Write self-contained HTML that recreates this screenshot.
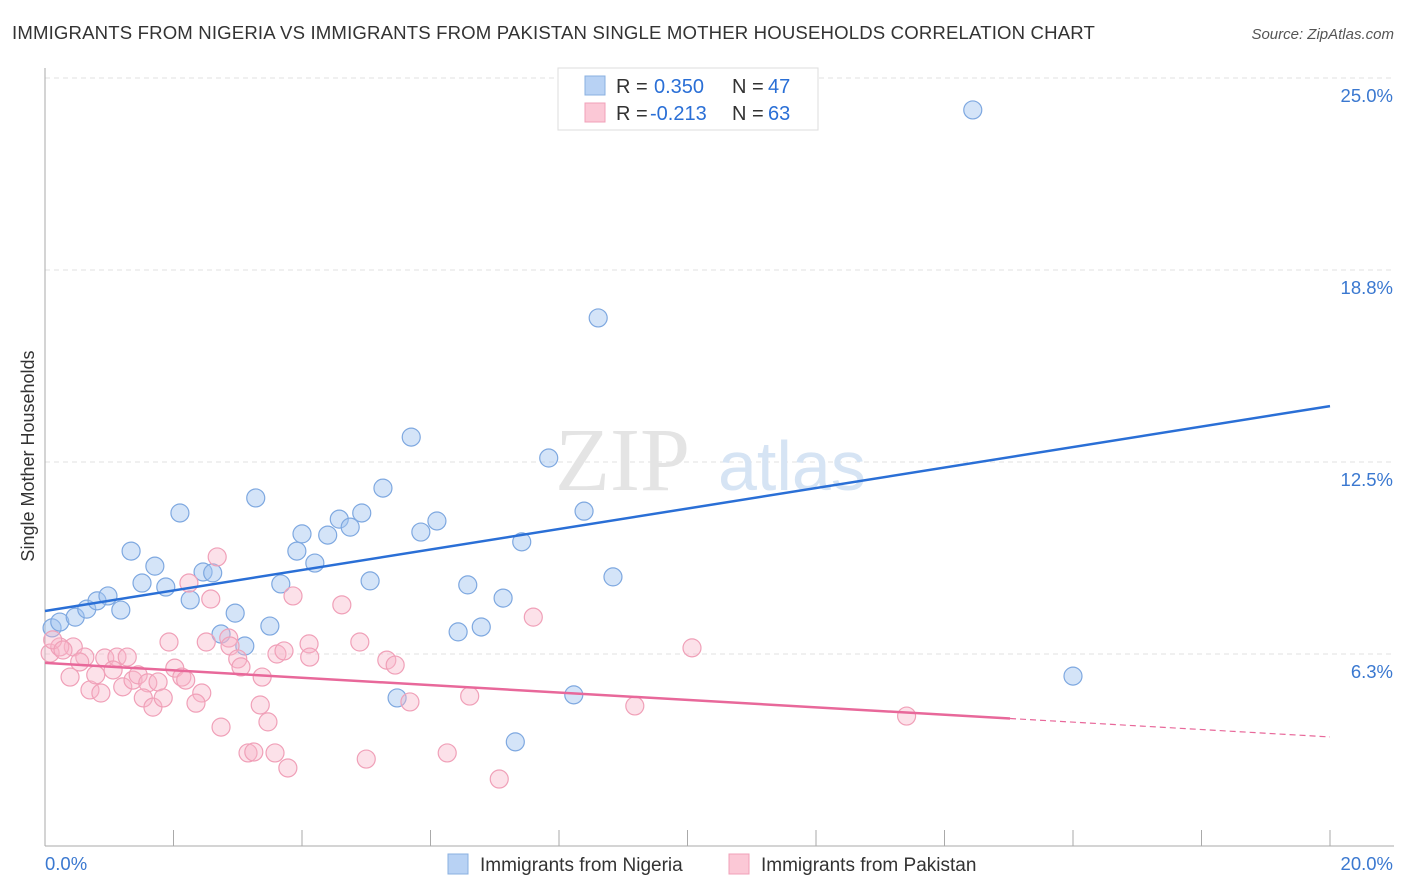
<!DOCTYPE html>
<html><head><meta charset="utf-8"><style>
body{margin:0;background:#fff;font-family:"Liberation Sans",sans-serif}
svg{display:block}
</style></head><body>
<svg id="chart" width="1406" height="892" viewBox="0 0 1406 892">
<text x="12" y="39" font-size="18.6" letter-spacing="0.15" fill="#333">IMMIGRANTS FROM NIGERIA VS IMMIGRANTS FROM PAKISTAN SINGLE MOTHER HOUSEHOLDS CORRELATION CHART</text>
<text x="1394" y="39" font-size="15" fill="#555" text-anchor="end" font-style="italic">Source: ZipAtlas.com</text>
<g id="grid"></g>
<g><text x="555" y="490" font-size="90" fill="#e4e4e4" font-family="Liberation Serif">ZIP</text><text x="718" y="490" font-size="70" fill="#d6e4f4">atlas</text></g>
<g id="marks"></g>
<text transform="translate(34,456) rotate(-90)" font-size="18" fill="#333" text-anchor="middle">Single Mother Households</text>
<g>
<rect x="558" y="68" width="260" height="62" fill="#fff" stroke="#ddd"/>
<rect x="585" y="76" width="20" height="19" fill="#b8d2f4" stroke="#8ab0e0"/>
<rect x="585" y="103" width="20" height="19" fill="#fbc8d6" stroke="#f0a0b8"/>
<text x="616" y="93" font-size="20" fill="#333">R =</text>
<text x="654" y="93" font-size="20" fill="#2a6fd6">0.350</text>
<text x="732" y="93" font-size="20" fill="#333">N =</text>
<text x="768" y="93" font-size="20" fill="#2a6fd6">47</text>
<text x="616" y="120" font-size="20" fill="#333">R =</text>
<text x="650" y="120" font-size="20" fill="#2a6fd6">-0.213</text>
<text x="732" y="120" font-size="20" fill="#333">N =</text>
<text x="768" y="120" font-size="20" fill="#2a6fd6">63</text>
</g>
<g>
<rect x="448" y="854" width="20" height="20" fill="#b8d2f4" stroke="#8ab0e0"/>
<text x="480" y="871" font-size="19" fill="#333">Immigrants from Nigeria</text>
<rect x="729" y="854" width="20" height="20" fill="#fbc8d6" stroke="#f0a0b8"/>
<text x="761" y="871" font-size="19" fill="#333">Immigrants from Pakistan</text>
</g>
</svg>
<script>
const yTicks=[6.25,12.5,18.75,25];
const yTickLabels=["6.3%","12.5%","18.8%","25.0%"];
const xTicks=[0,2,4,6,8,10,12,14,16,18,20];
const nigeriaX=[.11,.23,.47,.65,.81,.98,1.18,1.34,1.51,1.71,1.88,2.10,2.26,2.46,2.61,2.96,2.74,3.11,3.28,3.50,3.67,3.92,4.00,4.20,4.40,4.58,4.75,4.93,5.06,5.26,5.48,5.70,5.85,6.10,6.43,6.58,6.79,7.13,7.32,7.42,7.84,8.23,8.39,8.61,8.84,14.44,16.00];
const nigeriaY=[7.10,7.29,7.45,7.71,7.98,8.14,7.68,9.60,8.56,9.11,8.43,10.84,8.01,8.92,8.89,7.58,6.90,6.51,11.33,7.16,8.53,9.60,10.16,9.21,10.12,10.64,10.38,10.84,8.63,11.65,4.82,13.31,10.22,10.58,6.97,8.50,7.13,8.07,3.39,9.90,12.63,4.92,10.90,17.19,8.76,23.96,5.53];
const pakistanX=[2.68,2.24,2.58,3.86,4.62,1.93,2.51,2.86,2.88,3.00,3.05,3.38,3.61,3.72,4.11,4.12,4.90,5.32,5.45,5.68,6.26,3.35,3.47,2.74,3.16,3.25,3.58,3.78,5.00,.39,.70,.87,.79,.44,.62,.54,.93,1.12,1.28,1.06,1.21,1.37,1.45,1.60,1.76,1.53,1.68,1.84,2.02,2.13,2.19,2.44,2.35,.08,.23,.12,.28,6.61,7.60,10.07,7.07,9.18,13.41];
const pakistanY=[9.41,8.56,8.04,8.14,7.85,6.64,6.64,6.77,6.51,6.09,5.83,5.50,6.25,6.35,6.58,6.15,6.64,6.05,5.89,4.69,3.03,4.59,4.04,3.87,3.03,3.06,3.03,2.54,2.83,5.50,5.08,4.98,5.57,6.48,6.15,5.99,6.12,6.15,6.15,5.73,5.18,5.40,5.57,5.31,5.34,4.82,4.52,4.82,5.79,5.50,5.40,4.98,4.65,6.28,6.48,6.71,6.38,4.88,7.45,6.45,2.18,4.56,4.23];
const nigeriaTrend=[7.65,14.32];
const pakistanTrend=[5.96,3.55];
const pakistanSolidEnd=15.02;
const NS="http://www.w3.org/2000/svg";
const X=v=>45+v/20*1285, Y=v=>846-v/25*768;
function mk(t,a,p){const e=document.createElementNS(NS,t);for(const k in a)e.setAttribute(k,a[k]);p.appendChild(e);return e;}
const grid=document.getElementById('grid'), marks=document.getElementById('marks');
yTicks.forEach((t,i)=>{
 const l=mk('line',{x1:45,x2:1394,y1:Y(t),y2:Y(t),stroke:'#e2e2e2','stroke-dasharray':'5,4'},grid);
 
 
 const tx=mk('text',{x:1393,y:Y(t)+24,'font-size':18.5,fill:'#3a78d0','text-anchor':'end'},grid);tx.textContent=yTickLabels[i];
 
 
});
const ax=mk('line',{x1:45,x2:45,y1:68,y2:846,stroke:'#aaa'},grid);


const bx=mk('line',{x1:45,x2:1394,y1:846,y2:846,stroke:'#aaa'},grid);


xTicks.forEach(t=>{const l=mk('line',{x1:X(t),x2:X(t),y1:830,y2:846,stroke:'#aaa'},grid);
 
 });
const xl0=mk('text',{x:45,y:870,'font-size':18.5,fill:'#3a78d0'},grid);xl0.textContent='0.0%';


const xl1=mk('text',{x:1393,y:870,'font-size':18.5,fill:'#3a78d0','text-anchor':'end'},grid);xl1.textContent='20.0%';


nigeriaX.forEach((v,i)=>{const c=mk('circle',{cx:X(v),cy:Y(nigeriaY[i]),r:9,fill:'rgba(160,196,240,0.45)',stroke:'#7ea8e0','stroke-width':1.2},marks);
 
 });
pakistanX.forEach((v,i)=>{const c=mk('circle',{cx:X(v),cy:Y(pakistanY[i]),r:9,fill:'rgba(248,180,200,0.4)',stroke:'#f0a0b8','stroke-width':1.2},marks);
 
 });
const bl=mk('line',{x1:X(0),y1:Y(nigeriaTrend[0]),x2:X(20),y2:Y(nigeriaTrend[1]),stroke:'#2a6fd6','stroke-width':2.5},marks);


const pm=v=>pakistanTrend[0]+(pakistanTrend[1]-pakistanTrend[0])*v/20;
const pl=mk('line',{x1:X(0),y1:Y(pm(0)),x2:X(pakistanSolidEnd),y2:Y(pm(pakistanSolidEnd)),stroke:'#e8689a','stroke-width':2.5},marks);


const pd=mk('line',{x1:X(pakistanSolidEnd),y1:Y(pm(pakistanSolidEnd)),x2:X(20),y2:Y(pm(20)),stroke:'#e8689a','stroke-width':1.2,'stroke-dasharray':'6,4'},marks);


</script>
</body></html>
